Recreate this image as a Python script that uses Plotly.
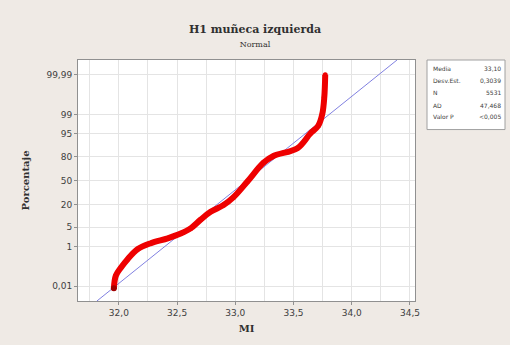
import plotly.graph_objects as go
from statistics import NormalDist

# ---- data ----
mi_values = [31.957, 31.974, 32.017, 32.077, 32.163, 32.274, 32.420, 32.531, 32.616,
             32.702, 32.788, 32.899, 32.985, 33.104, 33.241, 33.327, 33.533, 33.644,
             33.712, 33.747, 33.764, 33.772]
percent = [0.0075, 0.041, 0.107, 0.29, 0.79, 1.37, 2.1, 3.1, 4.6,
           8.4, 13.5, 19.4, 27.9, 48.6, 73.3, 80.6, 87.2, 95.1,
           97.3, 99.05, 99.83, 99.99]

y_tick_percent = [0.01, 1, 5, 20, 50, 80, 95, 99, 99.99]
y_tick_labels = ["0,01", "1", "5", "20", "50", "80", "95", "99", "99,99"]
x_tick_vals = [32.0, 32.5, 33.0, 33.5, 34.0, 34.5]
x_tick_labels = ["32,0", "32,5", "33,0", "33,5", "34,0", "34,5"]

mean_val = 33.10
sd_val = 0.3039
stat_names = ["Media", "Desv.Est.", "N", "AD", "Valor P"]
stat_values = ["33,10", "0,3039", "5531", "47,468", "<0,005"]

nd = NormalDist()
z = lambda p: nd.inv_cdf(p / 100.0)

y_range = [-4.24, 4.24]
x_range = [31.649, 34.543]

fig = go.Figure()

# fitted normal line
fit_z = [y_range[0], y_range[1]]
fit_x = [mean_val + sd_val * zz for zz in fit_z]
fig.add_trace(go.Scatter(x=fit_x, y=fit_z, mode="lines",
                         line=dict(color="#8080E0", width=1), hoverinfo="skip"))

# data
fig.add_trace(go.Scatter(x=mi_values, y=[z(p) for p in percent], mode="lines+markers",
                         line=dict(color="#EE0000", width=6, shape="spline"),
                         marker=dict(color="#EE0000", size=5)))
fig.add_trace(go.Scatter(x=mi_values[:1], y=[z(percent[0])], mode="markers",
                         marker=dict(color="#A00000", size=6)))

font_axis = dict(family="DejaVu Sans", size=9, color="#404040")

fig.update_xaxes(range=x_range, tickvals=x_tick_vals, ticktext=x_tick_labels,
                 showgrid=True, gridcolor="#E4E4E4", gridwidth=1,
                 minor=dict(dtick=0.25, tick0=32.0, showgrid=True, gridcolor="#E4E4E4"),
                 ticks="outside", ticklen=3, tickcolor="#909090",
                 showline=True, linecolor="#909090", linewidth=1, mirror=True,
                 zeroline=False, tickfont=font_axis,
                 title=dict(text="<b>MI</b>", font=dict(family="DejaVu Serif", size=10, color="#303030"),
                            standoff=8))
fig.update_yaxes(range=y_range, tickvals=[z(p) for p in y_tick_percent], ticktext=y_tick_labels,
                 showgrid=True, gridcolor="#E4E4E4", gridwidth=1,
                 ticks="outside", ticklen=3, tickcolor="#909090",
                 showline=True, linecolor="#909090", linewidth=1, mirror=True,
                 zeroline=False, tickfont=font_axis,
                 title=dict(text="<b>Porcentaje</b>", font=dict(family="DejaVu Serif", size=10, color="#303030"),
                            standoff=14))

# stats box
pw = 415 - 78
ph = 306 - 60
def px(xp):
    return (xp - 78) / pw
def py(yp):
    return (306 - yp) / ph

fig.add_shape(type="rect", xref="paper", yref="paper",
              x0=px(427), x1=px(505), y0=py(131), y1=py(60),
              line=dict(color="#A0A0A0", width=1), fillcolor="white")
row_y = [69, 81, 93, 106, 118]
for name, val, ry in zip(stat_names, stat_values, row_y):
    fig.add_annotation(xref="paper", yref="paper", x=px(431), y=py(ry), text=name,
                       showarrow=False, xanchor="left", yanchor="middle",
                       font=dict(family="DejaVu Sans", size=6, color="#404040"))
    fig.add_annotation(xref="paper", yref="paper", x=px(503), y=py(ry), text=val,
                       showarrow=False, xanchor="right", yanchor="middle",
                       font=dict(family="DejaVu Sans", size=6, color="#404040"))

fig.update_layout(
    width=510, height=345,
    margin=dict(l=78, r=95, t=60, b=39),
    paper_bgcolor="#EFEAE5", plot_bgcolor="white",
    showlegend=False,
    title=dict(text="<b>H1 muñeca izquierda</b><br><span style='font-size:8px;font-weight:normal'>Normal</span>",
               x=0.5, xanchor="center", y=1 - 33 / 345, yanchor="middle",
               font=dict(family="DejaVu Serif", size=11, color="#303030")),
)

fig.write_html("out.html")
